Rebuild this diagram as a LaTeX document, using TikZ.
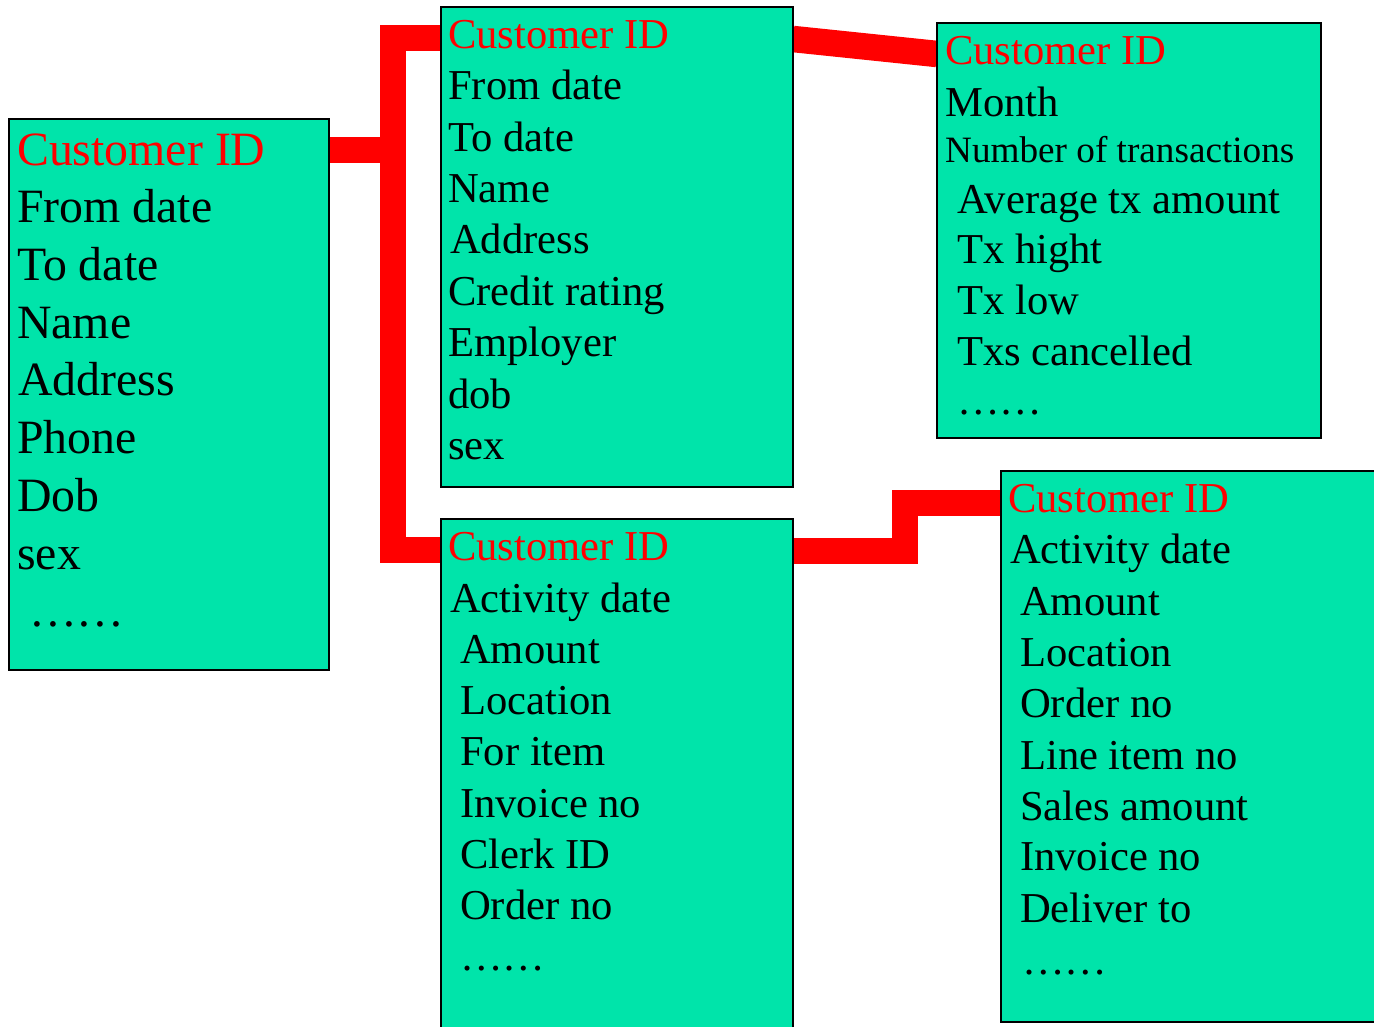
\documentclass[tikz,border=0pt]{standalone}
\usepackage{fontspec}
\setmainfont{Liberation Serif}
\definecolor{boxgreen}{RGB}{0,228,170}
\definecolor{keyred}{RGB}{255,0,0}
\tikzset{
  frame/.style={anchor=north west, inner sep=0pt, outer sep=0pt},
  boxdraw/.style={draw=black, line width=2pt, fill=boxgreen},
  conn/.style={draw=keyred, line width=26.5pt, line cap=butt, line join=miter},
  bigtxt/.style={font=\fontsize{47.8}{57}\selectfont, anchor=base west, inner sep=0pt, text=black},
  medtxt/.style={font=\fontsize{42.6}{51}\selectfont, anchor=base west, inner sep=0pt, text=black},
  smalltxt/.style={font=\fontsize{37.2}{44}\selectfont, anchor=base west, inner sep=0pt, text=black},
  keytxt/.style={text=keyred}
}
\begin{document}
\begin{tikzpicture}[x=1pt,y=-1pt]
\useasboundingbox (0,0) rectangle (1374,1026);
\begin{scope}
\clip (0,0) rectangle (1374,1026);
% box frames (named nodes)
\node[frame, minimum width=320pt, minimum height=551pt] (L) at (9,119) {};
\node[frame, minimum width=352pt, minimum height=480pt] (MT) at (441,7) {};
\node[frame, minimum width=352pt, minimum height=530pt] (MB) at (441,519) {};
\node[frame, minimum width=384pt, minimum height=415pt] (RT) at (937,23) {};
\node[frame, minimum width=400pt, minimum height=551pt] (RB) at (1001,471) {};

% connectors
\draw[conn] ([yshift=-31pt]MT.north west) -- ++(-48,0) |- ([yshift=-31pt]MB.north west);
\draw[conn] ([yshift=-31pt]L.north east) -- ++(70,0);
\draw[conn] ([yshift=-32pt]MT.north east) -- ([yshift=-31pt]RT.north west);
\draw[conn] ([yshift=-32pt]MB.north east) -- ++(112,0) |- ([yshift=-32pt]RB.north west);

% visible boxes
\draw[boxdraw] (L.north west) rectangle (L.south east);
\draw[boxdraw] (MT.north west) rectangle (MT.south east);
\draw[boxdraw] (MB.north west) rectangle (MB.south east);
\draw[boxdraw] (RT.north west) rectangle (RT.south east);
\draw[boxdraw] (RB.north west) rectangle (RB.south east);

% left box texts
\node[bigtxt, keytxt] (l1) at (17,165) {Customer ID};
\node[bigtxt] (l2) at (17,222.7) {From date};
\node[bigtxt] (l3) at (17,280.4) {To date};
\node[bigtxt] (l4) at (17,338) {Name};
\node[bigtxt] (l5) at (18,395.8) {Address};
\node[bigtxt] (l6) at (17,453.5) {Phone};
\node[bigtxt] (l7) at (17,511) {Dob};
\node[bigtxt] (l8) at (17,569) {sex};
\node[bigtxt] (l9) at (17,626.5) {\ ……};

% middle top texts
\node[medtxt, keytxt] (a1) at (448,48) {Customer ID};
\node[medtxt] (a2) at (448,99.5) {From date};
\node[medtxt] (a3) at (448,151) {To date};
\node[medtxt] (a4) at (448,202) {Name};
\node[medtxt] (a5) at (450,253.5) {Address};
\node[medtxt] (a6) at (448,305) {Credit rating};
\node[medtxt] (a7) at (448,356.5) {Employer};
\node[medtxt] (a8) at (448,408) {dob};
\node[medtxt] (a9) at (448,459) {sex};

% middle bottom texts
\node[medtxt, keytxt] (b1) at (448,560) {Customer ID};
\node[medtxt] (b2) at (450,612) {Activity date};
\node[medtxt] (b3) at (460,663) {Amount};
\node[medtxt] (b4) at (460,714) {Location};
\node[medtxt] (b5) at (460,765.5) {For item};
\node[medtxt] (b6) at (460,817) {Invoice no};
\node[medtxt] (b7) at (460,868) {Clerk ID};
\node[medtxt] (b8) at (460,919) {Order no};
\node[medtxt] (b9) at (460,970) {……};

% right top texts
\node[medtxt, keytxt] (c1) at (945,64) {Customer ID};
\node[medtxt] (c2) at (945,116) {Month};
\node[smalltxt] (c3) at (945,162) {Number of transactions};
\node[medtxt] (c4) at (957,213) {Average tx amount};
\node[medtxt] (c5) at (957,263.5) {Tx hight};
\node[medtxt] (c6) at (957,314.5) {Tx low};
\node[medtxt] (c7) at (957,365.5) {Txs cancelled};
\node[medtxt] (c8) at (957,414) {……};

% right bottom texts
\node[medtxt, keytxt] (d1) at (1008,512) {Customer ID};
\node[medtxt] (d2) at (1010,563.5) {Activity date};
\node[medtxt] (d3) at (1020,615) {Amount};
\node[medtxt] (d4) at (1020,666) {Location};
\node[medtxt] (d5) at (1020,717) {Order no};
\node[medtxt] (d6) at (1020,769) {Line item no};
\node[medtxt] (d7) at (1020,820) {Sales amount};
\node[medtxt] (d8) at (1020,870.5) {Invoice no};
\node[medtxt] (d9) at (1020,922) {Deliver to};
\node[medtxt] (d10) at (1022,974) {……};
\end{scope}
\end{tikzpicture}
\end{document}
